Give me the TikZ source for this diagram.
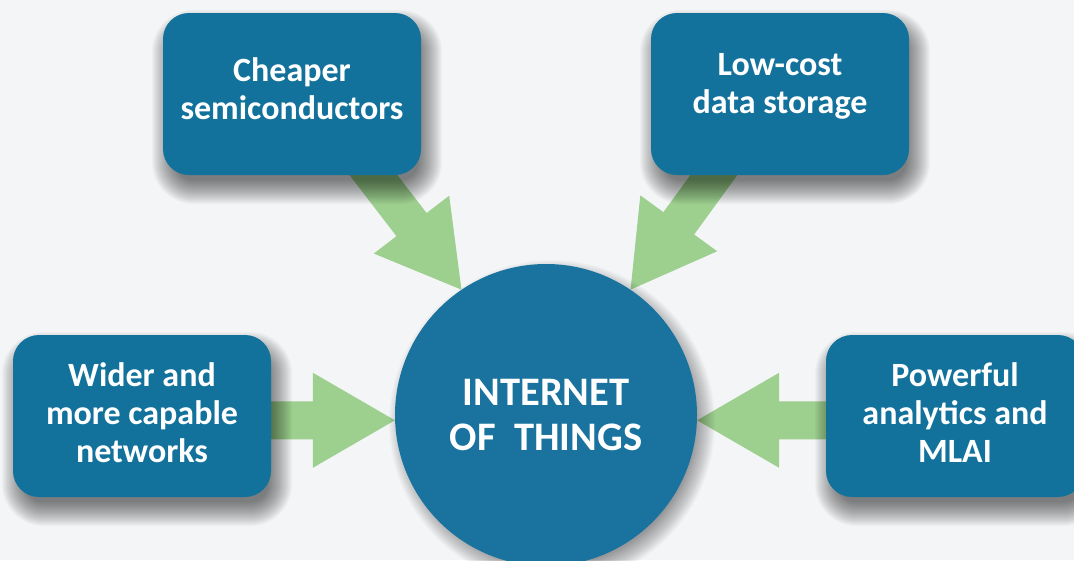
\documentclass[tikz,border=0pt]{standalone}
\usepackage{fontspec}
\setmainfont{Carlito}
\usetikzlibrary{calc}
\definecolor{boxblue}{HTML}{12729B}
\definecolor{iotblue}{HTML}{19739E}
\definecolor{arrowgreen}{HTML}{9DCF8F}
\definecolor{pagebg}{HTML}{F4F5F7}
\pgfdeclarelayer{back}
\pgfdeclarelayer{arrows}
\pgfdeclarelayer{shade}
\pgfsetlayers{back,arrows,shade,main}
\tikzset{
	factor/.style={rounded corners=26pt, fill=boxblue, minimum width=258pt, minimum height=162pt, inner sep=0pt},
	factortext/.style={align=center, text=white, inner sep=0pt, font=\bfseries\fontsize{34}{38}\selectfont},
	hub/.style={circle, fill=iotblue, minimum size=302pt, inner sep=0pt, align=center, text=white, font=\bfseries\fontsize{40.5}{45}\selectfont}
}
% block arrow from #1 to the tip #2
\newcommand{\fatarrow}[2]{%
	\coordinate (hb) at ($(#2)!82pt!(#1)$);
	\fill[arrowgreen] ($(#1)!19pt!90:(#2)$) -- ($(hb)!19pt!-90:(#1)$) -- ($(hb)!47.5pt!-90:(#1)$) -- (#2) -- ($(hb)!47.5pt!90:(#1)$) -- ($(hb)!19pt!90:(#1)$) -- ($(#1)!19pt!-90:(#2)$) -- cycle;}
% soft shadows
\newcommand{\boxshadow}[1]{%
	\foreach \k in {0,1,...,24}{
		\fill[black, opacity=0.024, rounded corners={18pt+\k pt}] ($(#1.north west)+({13-\k},{21-\k})$) rectangle ($(#1.south east)+({\k-3},{\k+5})$);
	}}
\newcommand{\hubshadow}[1]{%
	\foreach \k in {0,1,...,20}{
		\fill[black, opacity=0.021] ($(#1.center)+(6,8)$) circle[radius={143pt+\k pt}];
	}}
\begin{document}
\begin{tikzpicture}[x=1pt, y=-1pt]
	\useasboundingbox (0,0) rectangle (1074,560);
	\begin{pgfonlayer}{back}
		\fill[pagebg] (0,0) rectangle (1074,560);
	\end{pgfonlayer}
	%hub
	\node[hub] (iot) at (546,415) {INTERNET\\OF\ \ THINGS};
	%drivers
	\node[factor] (semi) at (292,94) {};
	\node[factor] (storage) at (780,94) {};
	\node[factor] (net) at (142,416) {};
	\node[factor] (analytics) at (955,416) {};
	\node[factortext] (semitext) at ([yshift=5pt]semi.center) {Cheaper\\semiconductors};
	\node[factortext] (storagetext) at ([yshift=8pt]storage.center) {Low-cost\\data storage};
	\node[factortext] (nettext) at ([yshift=3pt]net.center) {Wider and\\more capable\\networks};
	\node[factortext] (analyticstext) at ([yshift=3pt]analytics.center) {Powerful\\analytics and\\MLAI};
	%arrow ends
	\coordinate (tipNW) at (iot.124);
	\coordinate (tipNE) at (iot.56);
	\coordinate (tipW) at (iot.182);
	\coordinate (tipE) at (iot.-2);
	\coordinate (sNW) at ($(semi.south)+(57,-32)$);
	\coordinate (sNE) at ($(storage.south)+(-43,-32)$);
	\coordinate (sW) at (net.center |- tipW);
	\coordinate (sE) at (analytics.center |- tipE);
	\begin{pgfonlayer}{arrows}
		\fatarrow{sNW}{tipNW}
		\fatarrow{sNE}{tipNE}
		\fatarrow{sW}{tipW}
		\fatarrow{sE}{tipE}
	\end{pgfonlayer}
	\begin{pgfonlayer}{shade}
		\hubshadow{iot}
		\boxshadow{semi}
		\boxshadow{storage}
		\boxshadow{net}
		\boxshadow{analytics}
	\end{pgfonlayer}
\end{tikzpicture}
\end{document}
